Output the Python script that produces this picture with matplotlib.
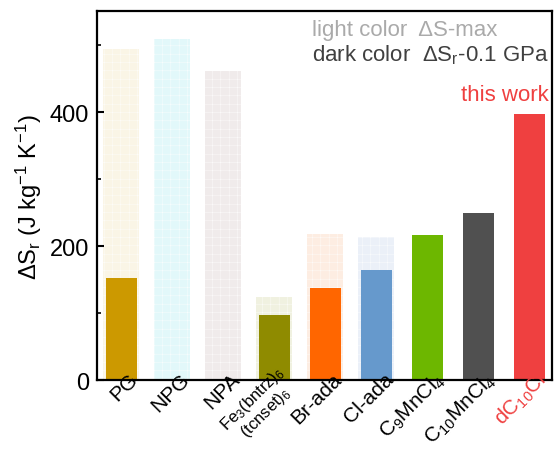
import matplotlib
matplotlib.use("Agg")
import matplotlib.pyplot as plt
import numpy as np

plt.rcParams["font.family"] = ["Liberation Sans", "DejaVu Sans"]
plt.rcParams["mathtext.fontset"] = "custom"
plt.rcParams["mathtext.rm"] = "Liberation Sans"
plt.rcParams["mathtext.it"] = "Liberation Sans"
plt.rcParams["hatch.linewidth"] = 0.3

labels = ["PG", "NPG", "NPA", "Fe$_3$(bntrz)$_6$\n(tcnset)$_6$", "Br-ada",
          "Cl-ada", "C$_9$MnCl$_4$", "C$_{10}$MnCl$_4$", "dC$_{10}$Cl"]
ds_max = [495, 510, 461, 124, 218, 214, np.nan, np.nan, np.nan]
ds_01gpa = [152, np.nan, np.nan, 97, 137, 164, 216, 249, 397]
light_colors = ["#faf4e4", "#dff8fa", "#efe9e9", "#eff0dd", "#fdebdf", "#e9eff8",
                "none", "none", "none"]
dark_colors = ["#cc9900", "none", "none", "#8f8b00", "#ff6600", "#6699cc",
               "#6db700", "#505050", "#ef4040"]

x = np.arange(len(labels))

fig = plt.figure(figsize=(5.55, 4.52), dpi=100)
ax = fig.add_axes([0.175, 0.157, 0.8196, 0.816])

ax.bar(x, np.nan_to_num(ds_max), width=0.7, color=light_colors, lw=0,
       hatch="++", edgecolor="white", alpha=0.9)
ax.bar(x, np.nan_to_num(ds_01gpa), width=0.61, color=dark_colors, lw=0)

ax.set_xlim(-0.47, 8.45)
ax.set_ylim(0, 551)
ax.set_yticks([0, 200, 400])
ax.set_yticks([100, 300, 500], minor=True)
ax.tick_params(axis="y", which="major", direction="in", length=5, width=1.5,
               labelsize=17, pad=6)
ax.tick_params(axis="y", which="minor", direction="in", length=3, width=1.2)
ax.tick_params(axis="x", length=0, pad=0)
for s in ax.spines.values():
    s.set_linewidth(1.6)

# x labels as annotations, tilted 45 deg and hung just under the axis
ax.set_xticks(x)
ax.set_xticklabels([])
for i, lab in enumerate(labels):
    ax.annotate(lab, xy=(x[i], 0), xycoords=("data", "axes fraction"),
                xytext=(14, 4), textcoords="offset pixels",
                rotation=45, rotation_mode="anchor", ha="right", va="center",
                fontsize=12 if i == 3 else 15, multialignment="center",
                linespacing=1.0,
                color="#ef4040" if i == len(labels) - 1 else "black")

ax.set_ylabel("ΔS$_r$ (J kg$^{-1}$ K$^{-1}$)", fontsize=17, labelpad=4)

ax.text(0.4725, 0.951, "light color  ΔS-max", transform=ax.transAxes,
        fontsize=16, color="#aaaaaa", ha="left", va="center")
ax.text(0.4725, 0.884, "dark color  ΔS$_r$-0.1 GPa", transform=ax.transAxes,
        fontsize=16, color="#404040", ha="left", va="center")
ax.text(0.993, 0.775, "this work", transform=ax.transAxes,
        fontsize=16, color="#ef4040", ha="right", va="center")

fig.savefig("out.png", dpi=100)
